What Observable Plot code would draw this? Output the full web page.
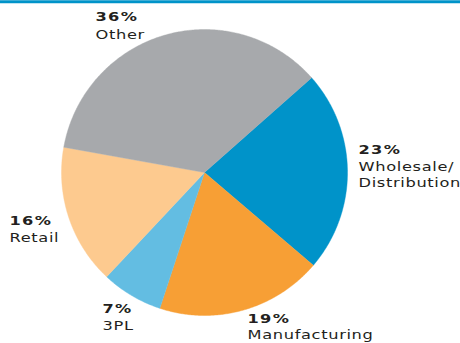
<!DOCTYPE html>
<html>
<head>
<meta charset="utf-8">
<script src="https://cdn.jsdelivr.net/npm/d3@7"></script>
<script src="https://cdn.jsdelivr.net/npm/@observablehq/plot@0.6"></script>
<style>
  html, body { margin: 0; padding: 0; background: #fff; }
  #chart { width: 460px; height: 343px; }
</style>
</head>
<body>
<div id="chart"></div>
<script>
// ---- data ----
const categories = ["Wholesale/Distribution", "Manufacturing", "3PL", "Retail", "Other"];
const shares = [23, 19, 7, 16, 36];
const percentLabels = ["23%", "19%", "7%", "16%", "36%"];
const nameLabels = ["Wholesale/\nDistribution", "Manufacturing", "3PL", "Retail", "Other"];
const colors = ["#0093c9", "#f79f35", "#63bde2", "#fdca8f", "#a7a9ac"];

// ---- layout (pixels) ----
const W = 460, H = 343;
const cx = 204, cy = 172, R = 143;
const startDeg = 48.5;
// x: left edge, py: baseline of percent, ny: baseline of first name line
const labelPos = [
  {x: 358, py: 153, ny: 168},
  {x: 247, py: 322, ny: 336.5},
  {x: 102, py: 312, ny: 327},
  {x: 9,   py: 224, ny: 239},
  {x: 95,  py: 20,  ny: 36}
];
const pctSize = 12, nameSize = 12.5;
const pctStretch = 1.35, nameStretch = 1.3;

// ---- pie geometry from the data ----
const arcs = d3.pie().sort(null)
  .startAngle(startDeg * Math.PI / 180)
  .endAngle((startDeg + 360) * Math.PI / 180)(shares);

const slicePts = [];
arcs.forEach((a, i) => {
  const cat = categories[i];
  slicePts.push({cat, x: cx, y: cy});
  const n = Math.max(2, Math.ceil((a.endAngle - a.startAngle) / (Math.PI / 360)));
  for (let k = 0; k <= n; k++) {
    const t = a.startAngle + (a.endAngle - a.startAngle) * k / n;
    slicePts.push({cat, x: cx + R * Math.sin(t), y: cy - R * Math.cos(t)});
  }
  slicePts.push({cat, x: cx, y: cy});
});

const labels = categories.map((c, i) => ({
  cat: c, pct: percentLabels[i], name: nameLabels[i],
  x: labelPos[i].x, py: labelPos[i].py, ny: labelPos[i].ny
}));

const plot = Plot.plot({
  width: W, height: H,
  margin: 0,
  x: {domain: [0, W], range: [0, W], axis: null},
  y: {domain: [0, H], range: [0, H], axis: null},
  color: {domain: categories, range: colors},
  marks: [
    Plot.ruleY([0], {stroke: "#0093c9", strokeWidth: 3, dy: 1.2}),
    Plot.line(slicePts, {x: "x", y: "y", z: "cat", fill: "cat", stroke: "cat", strokeWidth: 0.4, curve: "linear"}),
    Plot.text(labels, {x: "x", y: "py", text: "pct", textAnchor: "start", lineAnchor: "bottom",
      fontFamily: "DejaVu Sans", fontWeight: "bold", fontSize: pctSize, fill: "#231f20"}),
    Plot.text(labels, {x: "x", y: "ny", text: "name", textAnchor: "start", lineAnchor: "top",
      dy: -0.71 * nameSize, lineHeight: 16 / nameSize,
      fontFamily: "DejaVu Sans", fontWeight: "normal", fontSize: nameSize, fill: "#231f20"})
  ]
});

const textGroups = plot.querySelectorAll('g[aria-label="text"]');
function stretch(group, s, spacing) {
  if (!group) return;
  group.style.letterSpacing = spacing;
  group.querySelectorAll("text").forEach(t => {
    const tr = t.getAttribute("transform") || "";
    t.setAttribute("transform", tr + ` scale(${s},1)`);
  });
}
stretch(textGroups[0], pctStretch, "1px");
stretch(textGroups[1], nameStretch, "0.5px");
document.getElementById("chart").appendChild(plot);
</script>
</body>
</html>
